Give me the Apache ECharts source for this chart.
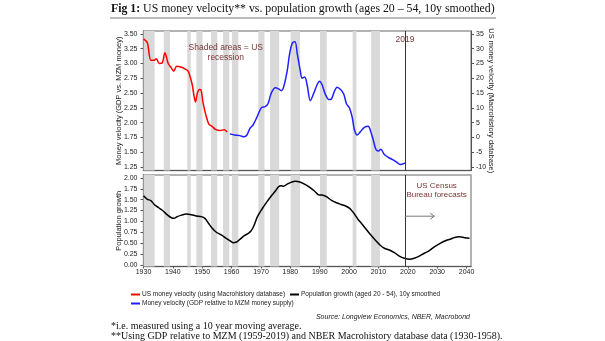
<!DOCTYPE html>
<html>
<head>
<meta charset="utf-8">
<script src="https://cdn.jsdelivr.net/npm/echarts@6/dist/echarts.min.js"></script>
<style>
  html, body { margin: 0; padding: 0; background: #fff; }
  #chart { width: 605px; height: 341px; }
</style>
</head>
<body>
<div id="chart"></div>
<script>
// US money velocity (Macrohistory database), right-hand scale
const macroYears = [1930.0, 1931.3, 1932.5, 1933.6, 1934.4, 1935.3, 1936.3, 1937.3, 1938.4, 1939.3,
  1940.3, 1941.3, 1942.7, 1944.1, 1945.2, 1946.0, 1946.7, 1947.2, 1947.7, 1948.3,
  1949.0, 1949.6, 1950.3, 1951.2, 1952.2, 1953.4, 1954.5, 1956.0, 1957.5, 1958.5];
const macroVelocity = [33.3, 32.0, 26.1, 26.1, 26.6, 25.0, 25.1, 28.6, 25.0, 23.8,
  22.4, 24.1, 23.8, 23.2, 22.4, 20.1, 17.3, 14.0, 12.0, 14.8,
  16.2, 16.0, 11.6, 7.7, 4.6, 3.7, 2.7, 2.3, 2.6, 1.8];

// Money velocity, GDP relative to MZM, left-hand scale
const mzmYears = [1959.4, 1961.1, 1962.8, 1964.3, 1965.2, 1966.2, 1967.3, 1968.6, 1970.1, 1971.4,
  1972.4, 1973.5, 1974.9, 1976.0, 1976.9, 1977.7, 1978.9, 1979.8, 1980.7, 1981.6,
  1982.4, 1983.4, 1984.0, 1984.9, 1985.7, 1986.8, 1988.0, 1989.1, 1989.9, 1990.8,
  1991.9, 1993.1, 1994.0, 1995.0, 1995.9, 1997.1, 1998.2, 1999.1, 2000.2, 2001.1,
  2001.8, 2002.8, 2003.9, 2005.2, 2006.5, 2007.3, 2008.2, 2009.1, 2010.0, 2010.8,
  2012.0, 2013.4, 2015.0, 2016.5, 2017.4, 2018.2, 2019.1];
const mzmVelocity = [1.81, 1.79, 1.78, 1.76, 1.79, 1.90, 1.96, 2.09, 2.25, 2.27,
  2.32, 2.50, 2.59, 2.57, 2.54, 2.60, 2.87, 3.18, 3.35, 3.37,
  3.15, 2.87, 2.75, 2.77, 2.64, 2.37, 2.50, 2.64, 2.70, 2.64,
  2.48, 2.39, 2.40, 2.53, 2.60, 2.56, 2.48, 2.32, 2.24, 2.08,
  1.88, 1.79, 1.85, 1.92, 1.94, 1.86, 1.71, 1.55, 1.52, 1.55,
  1.46, 1.41, 1.37, 1.32, 1.29, 1.30, 1.32];

// Population growth, ages 20-54, 10y smoothed (Census forecasts after 2019)
const popYears = [1930.0, 1931.3, 1932.5, 1933.8, 1935.2, 1936.7, 1938.1, 1939.5, 1940.3, 1941.5,
  1942.9, 1944.6, 1946.3, 1948.0, 1949.7, 1950.9, 1952.0, 1953.4, 1954.8, 1956.6,
  1957.9, 1959.4, 1960.5, 1961.7, 1962.8, 1964.3, 1965.7, 1966.6, 1967.4, 1968.8,
  1970.3, 1972.0, 1973.5, 1974.9, 1976.0, 1976.8, 1977.7, 1978.9, 1980.2, 1981.7,
  1983.2, 1984.8, 1986.6, 1988.2, 1989.7, 1990.8, 1992.3, 1993.9, 1995.7, 1997.3,
  1998.8, 2000.2, 2001.6, 2003.0, 2004.5, 2006.0, 2007.4, 2009.1, 2010.5, 2012.0,
  2013.7, 2015.4, 2017.1, 2018.8, 2020.5, 2022.2, 2023.9, 2025.6, 2027.3, 2029.0,
  2031.0, 2032.8, 2034.4, 2035.9, 2037.6, 2039.3, 2041.0];
const popGrowth = [1.59, 1.51, 1.48, 1.38, 1.315, 1.24, 1.15, 1.085, 1.07, 1.11,
  1.145, 1.17, 1.155, 1.125, 1.11, 1.07, 0.97, 0.84, 0.75, 0.685,
  0.62, 0.555, 0.51, 0.525, 0.585, 0.67, 0.725, 0.78, 0.87, 1.11,
  1.28, 1.45, 1.585, 1.70, 1.80, 1.82, 1.81, 1.86, 1.90, 1.925,
  1.91, 1.86, 1.785, 1.70, 1.61, 1.61, 1.57, 1.49, 1.43, 1.39,
  1.355, 1.30, 1.19, 1.05, 0.93, 0.80, 0.685, 0.555, 0.455, 0.38,
  0.34, 0.28, 0.20, 0.15, 0.125, 0.15, 0.20, 0.265, 0.325, 0.415,
  0.495, 0.555, 0.59, 0.63, 0.645, 0.625, 0.61];

// NBER recession periods (start, end)
const recessions = [[1929.5, 1933.8], [1936.9, 1939.0], [1944.9, 1946.1], [1948.0, 1950.1],
  [1953.0, 1955.1], [1957.1, 1959.2], [1960.1, 1962.3], [1969.1, 1971.2], [1973.1, 1976.2],
  [1980.1, 1983.3], [1990.1, 1992.4], [2001.2, 2002.5], [2007.5, 2010.5]];

const yearTicks = [1930, 1940, 1950, 1960, 1970, 1980, 1990, 2000, 2010, 2020, 2030, 2040];
const leftTicks = [1.25, 1.50, 1.75, 2.00, 2.25, 2.50, 2.75, 3.00, 3.25, 3.50];
const rightTicks = [-10, -5, 0, 5, 10, 15, 20, 25, 30, 35];
const popTicks = [0, 0.25, 0.5, 0.75, 1.0, 1.25, 1.5, 1.75, 2.0];

const forecastStart = 2019;
const arrowFrom = [2019, 1.12];
const arrowTo = [2029, 1.12];

const zip = (xs, ys) => xs.map((x, i) => [x, ys[i]]);

const SANS = 'Liberation Sans';
const SERIF = 'Liberation Serif';
const NOTE = '#7b3535';
const AXIS = '#555';

const NAME_RED = 'US money velocity (using Macrohistory database)';
const NAME_BLACK = 'Population growth (aged 20 - 54), 10y smoothed';
const NAME_BLUE = 'Money velocity (GDP relative to MZM money supply)';

const bandArea = {
  silent: true,
  itemStyle: { color: '#d9d9d9' },
  data: recessions.map(r => [{ xAxis: r[0] }, { xAxis: r[1] }])
};
const forecastLine = {
  silent: true,
  symbol: 'none',
  label: { show: false },
  lineStyle: { color: '#333', width: 1, type: 'solid' },
  data: [{ xAxis: forecastStart }]
};

const chart = echarts.init(document.getElementById('chart'), null, { renderer: 'canvas' });

const xCommon = { type: 'value', min: 1930, max: 2041.5, splitLine: { show: false } };
const tickLabel = { fontFamily: SANS, fontSize: 7, color: '#222' };
const nameStyle = { fontFamily: SANS, fontSize: 7.5, color: '#222' };

function legendAt(left, top, name) {
  return {
    left: left, top: top, itemWidth: 9, itemHeight: 2, icon: 'rect', padding: 0,
    textStyle: { fontFamily: SANS, fontSize: 6.5, color: '#222', padding: [0, 0, 0, -3] },
    data: [name]
  };
}

const option = {
  backgroundColor: '#fff',
  animation: false,
  grid: [
    { left: 143.5, top: 31, width: 327.5, height: 139.5, show: true, borderColor: '#999', borderWidth: 1.5 },
    { left: 143.5, top: 175, width: 327.5, height: 91.5, show: true, borderColor: '#999', borderWidth: 1.5 }
  ],
  xAxis: [
    Object.assign({}, xCommon, {
      gridIndex: 0,
      axisLine: { show: true, onZero: false, lineStyle: { color: AXIS, width: 1 } },
      axisTick: { show: false }, axisLabel: { show: false }
    }),
    Object.assign({}, xCommon, {
      gridIndex: 1,
      axisLine: { show: true, onZero: false, lineStyle: { color: AXIS, width: 1 } },
      axisTick: { show: true, length: 2, lineStyle: { color: AXIS }, customValues: yearTicks },
      axisLabel: Object.assign({ margin: 2, customValues: yearTicks, formatter: v => String(v) }, tickLabel)
    })
  ],
  yAxis: [
    {
      type: 'value', gridIndex: 0, position: 'left', min: 1.19, max: 3.55,
      name: 'Money velocity (GDP vs. MZM money)', nameLocation: 'middle', nameGap: 21,
      nameMoveOverlap: false, nameTextStyle: nameStyle,
      splitLine: { show: false },
      axisLine: { show: true, onZero: false, lineStyle: { color: AXIS } },
      axisTick: { show: true, inside: false, length: 3, lineStyle: { color: AXIS }, customValues: leftTicks },
      axisLabel: Object.assign({ margin: 6, customValues: leftTicks, formatter: v => v.toFixed(2) }, tickLabel)
    },
    {
      type: 'value', gridIndex: 0, position: 'right', min: -11.2, max: 36,
      name: 'US money velocity (Macrohistory database)', nameLocation: 'middle', nameGap: 16, nameRotate: -90,
      nameMoveOverlap: false, nameTextStyle: nameStyle,
      splitLine: { show: false },
      axisLine: { show: true, onZero: false, lineStyle: { color: AXIS } },
      axisTick: { show: true, inside: false, length: 3, lineStyle: { color: AXIS }, customValues: rightTicks },
      axisLabel: Object.assign({ margin: 5, customValues: rightTicks, formatter: v => String(v) }, tickLabel)
    },
    {
      type: 'value', gridIndex: 1, position: 'left', min: -0.04, max: 2.07,
      name: 'Population growth', nameLocation: 'middle', nameGap: 21,
      nameMoveOverlap: false, nameTextStyle: nameStyle,
      splitLine: { show: false },
      axisLine: { show: true, onZero: false, lineStyle: { color: AXIS } },
      axisTick: { show: true, inside: false, length: 3, lineStyle: { color: AXIS }, customValues: popTicks },
      axisLabel: Object.assign({ margin: 6, customValues: popTicks, formatter: v => v.toFixed(2) }, tickLabel)
    }
  ],
  legend: [
    legendAt(131, 291, NAME_RED),
    legendAt(290, 291, NAME_BLACK),
    legendAt(131, 300, NAME_BLUE)
  ],
  series: [
    {
      name: NAME_RED, type: 'line', xAxisIndex: 0, yAxisIndex: 1, z: 2,
      data: zip(macroYears, macroVelocity), showSymbol: false, smooth: 0.3,
      lineStyle: { color: '#ff0000', width: 1.5 }, itemStyle: { color: '#ff0000' },
      markArea: bandArea
    },
    {
      name: NAME_BLUE, type: 'line', xAxisIndex: 0, yAxisIndex: 0, z: 3,
      data: zip(mzmYears, mzmVelocity), showSymbol: false, smooth: 0.3,
      lineStyle: { color: '#1f1fff', width: 1.5 }, itemStyle: { color: '#1f1fff' },
      markLine: forecastLine
    },
    {
      name: NAME_BLACK, type: 'line', xAxisIndex: 1, yAxisIndex: 2, z: 3,
      data: zip(popYears, popGrowth), showSymbol: false, smooth: 0.3,
      lineStyle: { color: '#000', width: 1.5 }, itemStyle: { color: '#000' },
      markArea: bandArea, markLine: forecastLine
    }
  ]
};
chart.setOption(option);

// Annotations anchored to data coordinates
const top2019 = chart.convertToPixel({ xAxisIndex: 0, yAxisIndex: 0 }, [forecastStart, 3.41]);
const a0 = chart.convertToPixel({ xAxisIndex: 1, yAxisIndex: 2 }, arrowFrom);
const a1 = chart.convertToPixel({ xAxisIndex: 1, yAxisIndex: 2 }, arrowTo);
const recessNote = chart.convertToPixel({ xAxisIndex: 0, yAxisIndex: 0 }, [1958, 3.19]);
const censusNote = chart.convertToPixel({ xAxisIndex: 1, yAxisIndex: 2 }, [2029.8, 1.72]);

chart.setOption({
  graphic: [
    {
      type: 'text', left: 111, top: 3, z: 100,
      style: {
        text: '{b|Fig 1:} US money velocity** vs. population growth (ages 20 \u2013 54, 10y smoothed)',
        fontFamily: SERIF, fontSize: 11.8, fill: '#111',
        rich: { b: { fontFamily: SERIF, fontSize: 11.8, fontWeight: 'bold', fill: '#111' } }
      }
    },
    { type: 'line', z: 100, shape: { x1: 110, y1: 18, x2: 496, y2: 18 }, style: { stroke: '#777', lineWidth: 1 } },
    {
      type: 'text', z: 100, x: top2019[0], y: top2019[1],
      style: { text: '2019', fontFamily: SANS, fontSize: 8.5, fill: NOTE, align: 'center', verticalAlign: 'middle' }
    },
    {
      type: 'text', z: 100, x: recessNote[0], y: recessNote[1],
      style: { text: 'Shaded areas = US\nrecession', fontFamily: SANS, fontSize: 8.5, lineHeight: 10, fill: NOTE, align: 'center', verticalAlign: 'middle' }
    },
    {
      type: 'text', z: 100, x: censusNote[0], y: censusNote[1],
      style: { text: 'US Census\nBureau forecasts', fontFamily: SANS, fontSize: 8, lineHeight: 9.5, fill: NOTE, align: 'center', verticalAlign: 'middle' }
    },
    { type: 'line', z: 100, shape: { x1: a0[0], y1: a0[1], x2: a1[0], y2: a1[1] }, style: { stroke: '#777', lineWidth: 1 } },
    {
      type: 'polyline', z: 100,
      shape: { points: [[a1[0] - 4, a1[1] - 3], [a1[0], a1[1]], [a1[0] - 4, a1[1] + 3]] },
      style: { stroke: '#777', lineWidth: 1, fill: null }
    },
    {
      type: 'text', z: 100, right: 135, top: 314,
      style: { text: 'Source: Longview Economics, NBER, Macrobond', fontFamily: SANS, fontSize: 7, fontStyle: 'italic', fill: '#222' }
    },
    {
      type: 'text', z: 100, left: 111, top: 321,
      style: { text: '*i.e. measured using a 10 year moving average.', fontFamily: SERIF, fontSize: 10, fill: '#111' }
    },
    {
      type: 'text', z: 100, left: 111, top: 331,
      style: { text: '**Using GDP relative to MZM (1959-2019) and NBER Macrohistory database data (1930-1958).', fontFamily: SERIF, fontSize: 10, fill: '#111' }
    }
  ]
});
</script>
</body>
</html>
